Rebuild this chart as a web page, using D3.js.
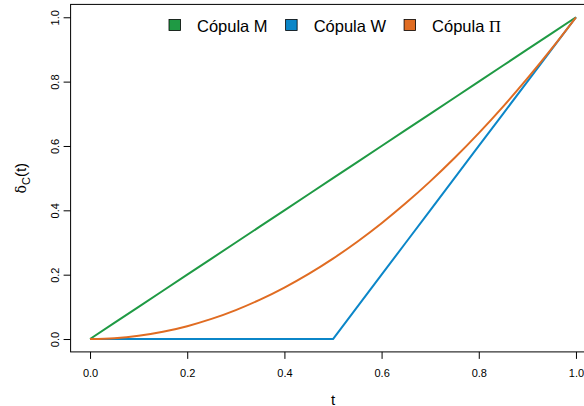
<!DOCTYPE html>
<html>
<head>
<meta charset="utf-8">
<script src="https://cdn.jsdelivr.net/npm/d3@7"></script>
<style>
  html, body { margin: 0; padding: 0; background: #fff; }
  svg { display: block; }
  text { font-family: "Liberation Sans", Arial, sans-serif; fill: #000; }
</style>
</head>
<body>
<svg id="chart" width="584" height="406"></svg>
<script>
// Diagonal sections δ_C(t) of the three fundamental copulas
const tGrid   = [0, 0.05, 0.1, 0.15, 0.2, 0.25, 0.3, 0.35, 0.4, 0.45, 0.5,
                 0.55, 0.6, 0.65, 0.7, 0.75, 0.8, 0.85, 0.9, 0.95, 1];
const copulaM  = [0, 0.05, 0.1, 0.15, 0.2, 0.25, 0.3, 0.35, 0.4, 0.45, 0.5,
                  0.55, 0.6, 0.65, 0.7, 0.75, 0.8, 0.85, 0.9, 0.95, 1];
const copulaW  = [0, 0, 0, 0, 0, 0, 0, 0, 0, 0, 0,
                  0.1, 0.2, 0.3, 0.4, 0.5, 0.6, 0.7, 0.8, 0.9, 1];
const copulaPi = [0, 0.0025, 0.01, 0.0225, 0.04, 0.0625, 0.09, 0.1225, 0.16, 0.2025, 0.25,
                  0.3025, 0.36, 0.4225, 0.49, 0.5625, 0.64, 0.7225, 0.81, 0.9025, 1];

const xTicks = [0, 0.2, 0.4, 0.6, 0.8, 1.0];
const yTicks = [0, 0.2, 0.4, 0.6, 0.8, 1.0];

const seriesNames  = ["Cópula M", "Cópula W", "Cópula "];
const seriesSymbol = ["", "", "Π"];
const seriesColors = ["#1f9a44", "#0b86c8", "#e06c22"];
const seriesValues = [copulaM, copulaW, copulaPi];

const svg = d3.select("#chart");

// R-style 4% padding around the data range
const x = d3.scaleLinear().domain([-0.04, 1.04]).range([70.6, 595.4]);
const y = d3.scaleLinear().domain([-0.04, 1.04]).range([351.9, 4.4]);

// plot frame
svg.append("rect")
  .attr("x", x(-0.04)).attr("y", y(1.04))
  .attr("width", x(1.04) - x(-0.04)).attr("height", y(-0.04) - y(1.04))
  .attr("fill", "none").attr("stroke", "#000").attr("stroke-width", 1);

// series lines
const line = d3.line()
  .x((d, i) => x(tGrid[i]))
  .y(d => y(d));

seriesValues.forEach((vals, k) => {
  svg.append("path")
    .datum(vals)
    .attr("d", k === 2 ? line.curve(d3.curveMonotoneX)(vals) : line.curve(d3.curveLinear)(vals))
    .attr("fill", "none")
    .attr("stroke", seriesColors[k])
    .attr("stroke-width", 2)
    .attr("stroke-linejoin", "round");
});

// x axis
const xAxis = svg.append("g")
  .attr("transform", `translate(0,${y(-0.04)})`)
  .call(d3.axisBottom(x).tickValues(xTicks).tickFormat(d3.format(".1f")).tickSize(7).tickPadding(10));
xAxis.select(".domain").remove();
xAxis.selectAll("text").attr("font-size", 11).attr("font-family", "Liberation Sans, Arial, sans-serif");
xAxis.selectAll("line").attr("stroke", "#000");

// y axis with rotated labels
const yAxis = svg.append("g")
  .attr("transform", `translate(${x(-0.04)},0)`)
  .call(d3.axisLeft(y).tickValues(yTicks).tickFormat(d3.format(".1f")).tickSize(7).tickPadding(0));
yAxis.select(".domain").remove();
yAxis.selectAll("line").attr("stroke", "#000");
yAxis.selectAll("text")
  .attr("font-size", 11)
  .attr("font-family", "Liberation Sans, Arial, sans-serif")
  .attr("x", null).attr("dy", null)
  .attr("text-anchor", "middle")
  .attr("transform", "translate(-15,0) rotate(-90)")
  .attr("dy", "0.32em");

// axis titles
svg.append("text")
  .attr("x", x(0.5)).attr("y", 399)
  .attr("text-anchor", "middle")
  .attr("dominant-baseline", "central")
  .attr("font-size", 15)
  .text("t");

const yTitle = svg.append("text")
  .attr("transform", `translate(26,${y(0.5)}) rotate(-90)`)
  .attr("text-anchor", "middle")
  .attr("font-size", 15);
yTitle.append("tspan").attr("font-family", "DejaVu Serif, serif").attr("font-size", 14).text("δ");
yTitle.append("tspan").attr("font-size", 11).attr("dy", 4).text("C");
yTitle.append("tspan").attr("dy", -4).text("(t)");

// legend
const legend = svg.append("g").attr("transform", "translate(169,0)");
let lx = 0;
seriesNames.forEach((name, k) => {
  const g = legend.append("g").attr("transform", `translate(${lx},0)`);
  g.append("rect")
    .attr("x", 0).attr("y", 19.5)
    .attr("width", 11.5).attr("height", 11)
    .attr("fill", seriesColors[k])
    .attr("stroke", "#000").attr("stroke-width", 0.8);
  const t = g.append("text")
    .attr("x", 28).attr("y", 32)
    .attr("font-size", 16.5)
    .text(name);
  if (seriesSymbol[k]) {
    t.append("tspan").attr("font-family", "Liberation Serif, serif").text(seriesSymbol[k]);
  }
  lx += 28 + t.node().getComputedTextLength() + 18;
});
</script>
</body>
</html>
